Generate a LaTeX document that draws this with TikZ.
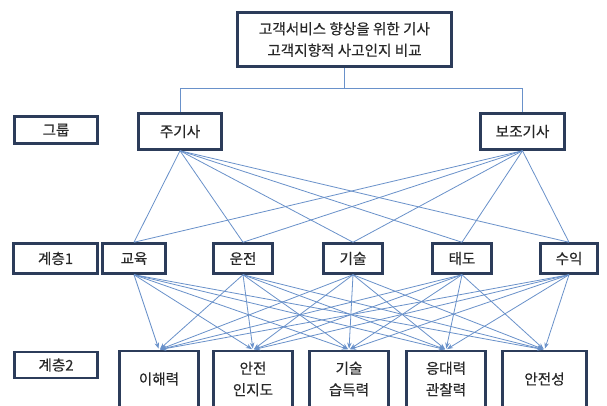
\documentclass[tikz,border=0pt]{standalone}
\usepackage{fontspec}
\newfontfamily\kr[RawFeature={embolden=0.4}]{Noto Sans CJK KR}
\usetikzlibrary{arrows.meta}
\definecolor{boxc}{RGB}{44,60,90}
\definecolor{linec}{RGB}{105,145,202}
\definecolor{txtc}{RGB}{40,40,40}
\begin{document}
\begin{tikzpicture}[x=1pt,y=-1pt,
  box/.style={draw=boxc, line width=2.5pt, fill=white, inner sep=0pt, align=center,
    text=txtc, font=\kr\fontsize{14.6}{21.5}\selectfont},
  conn/.style={draw=linec, line width=0.9pt},
  thin/.style={draw=linec, line width=0.8pt},
  arr/.style={draw=linec, line width=0.8pt, -{Stealth[length=6pt,width=4.5pt]}, shorten >=1.2pt}]
\clip (0,0) rectangle (607,405);
\fill[white] (0,0) rectangle (607,405);
% top
\node[box, minimum width=214pt, minimum height=54pt] (top) at (344.5,39.5) {고객서비스 향상을 위한 기사\\고객지향적 사고인지 비교};
% group row
\node[box, minimum width=83pt, minimum height=27pt] (grp) at (56,130) {그룹};
\node[box, minimum width=83pt, minimum height=36pt] (g1) at (180,131.5) {주기사};
\node[box, minimum width=84pt, minimum height=36pt] (g2) at (522.5,131.5) {보조기사};
% layer 1
\node[box, minimum width=84pt, minimum height=30pt] (lay1) at (55.5,258.5) {계층1};
\node[box, minimum width=63pt, minimum height=30pt] (a1) at (134,258.5) {교육};
\node[box, minimum width=59pt, minimum height=30pt] (a2) at (243,258.5) {운전};
\node[box, minimum width=59pt, minimum height=30pt] (a3) at (353,258.5) {기술};
\node[box, minimum width=59pt, minimum height=30pt] (a4) at (462,258.5) {태도};
\node[box, minimum width=57pt, minimum height=30pt] (a5) at (569,258.5) {수익};
% layer 2
\node[box, minimum width=83pt, minimum height=26pt] (lay2) at (56,365) {계층2};
\node[box, minimum width=79pt, minimum height=56pt] (b1) at (159,379) {이해력};
\node[box, minimum width=79pt, minimum height=56pt] (b2) at (253,379) {안전\\인지도};
\node[box, minimum width=79pt, minimum height=56pt] (b3) at (349,379) {기술\\습득력};
\node[box, minimum width=79pt, minimum height=56pt] (b4) at (446,379) {응대력\\관찰력};
\node[box, minimum width=84pt, minimum height=56pt] (b5) at (544.5,379) {안전성};
% tree connector
\draw[conn] (top.south) -- ++(0,21) -| (g1.north);
\draw[conn] (top.south) -- ++(0,21) -| (g2.north);
% group to layer 1
\foreach \g in {g1,g2}{
  \foreach \a in {a1,a2,a3,a4,a5}{
    \draw[thin] (\g.south) -- (\a.north);
  }
}
% layer 1 to layer 2
\foreach \a in {a1,a2,a3,a4,a5}{
  \foreach \b in {b1,b2,b3,b4,b5}{
    \draw[arr] (\a.south) -- (\b.north);
  }
}
\end{tikzpicture}
\end{document}
